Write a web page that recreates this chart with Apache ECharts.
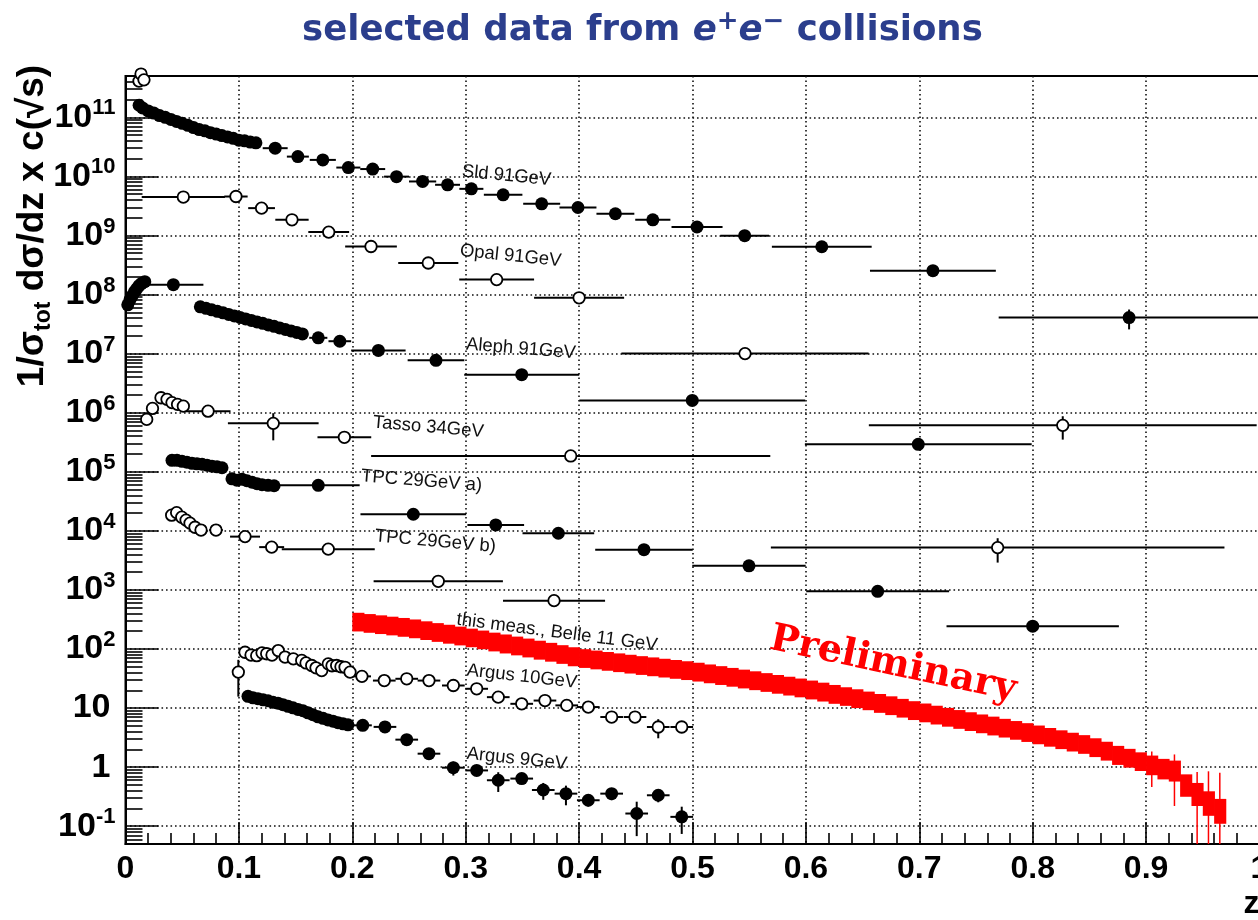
<!DOCTYPE html>
<html>
<head>
<meta charset="utf-8">
<script src="https://cdn.jsdelivr.net/npm/echarts@6/dist/echarts.min.js"></script>
<style>
html, body { margin: 0; padding: 0; background: #fff; }
#chart { width: 1258px; height: 920px; }
</style>
</head>
<body>
<div id="chart"></div>
<script>
// ---------- axis ticks ----------
const xTicks = [0, 0.1, 0.2, 0.3, 0.4, 0.5, 0.6, 0.7, 0.8, 0.9, 1];
const yMajor = [0.1, 1, 10, 1e2, 1e3, 1e4, 1e5, 1e6, 1e7, 1e8, 1e9, 1e10, 1e11];

// ---------- SLD 91 GeV (filled) ----------
const sldZ  = [0.012,0.015,0.020,0.025,0.030,0.035,0.040,0.045,0.050,0.055,0.060,0.065,0.070,0.075,0.080,0.085,0.090,0.095,0.100,0.105,0.110,0.115,
               0.132,0.152,0.174,0.1965,0.218,0.239,0.262,0.284,0.305,0.333,0.367,0.399,0.432,0.465,0.504,0.546,0.614,0.712,0.885];
const sldV  = [1.6e11,1.44e11,1.28e11,1.18e11,1.07e11,1.0e11,9.2e10,8.5e10,7.9e10,7.3e10,6.7e10,6.2e10,5.9e10,5.5e10,5.2e10,4.9e10,4.65e10,4.4e10,4.1e10,4.0e10,3.8e10,3.7e10,
               3.0e10,2.16e10,1.9e10,1.41e10,1.33e10,9.9e9,8.2e9,7.2e9,6.15e9,4.87e9,3.43e9,2.97e9,2.33e9,1.84e9,1.39e9,9.9e8,6.44e8,2.53e8,4.07e7];
const sldDz = [0.0025,0.0025,0.0025,0.0025,0.0025,0.0025,0.0025,0.0025,0.0025,0.0025,0.0025,0.0025,0.0025,0.0025,0.0025,0.0025,0.0025,0.0025,0.0025,0.0025,0.0025,0.0025,
               0.011,0.0097,0.0115,0.0106,0.011,0.011,0.012,0.011,0.0106,0.017,0.0163,0.0163,0.0167,0.0155,0.0225,0.0215,0.044,0.0555,0.115];
const sldEy = [0,0,0,0,0,0,0,0,0,0,0,0,0,0,0,0,0,0,0,0,0,0, 0,0,0,0,0,0,0,0,0,0,0,0,0,0,0,0,0,0,1.5e7];

// ---------- OPAL 91 GeV (open) ----------
const opalZ  = [0.0119,0.0137,0.0163, 0.051,0.0974,0.120,0.1468,0.1792,0.2165,0.267,0.3273,0.400,0.5463];
const opalV  = [4.1e11,5.4e11,4.3e11, 4.47e9,4.56e9,2.9e9,1.84e9,1.14e9,6.5e8,3.42e8,1.79e8,8.8e7,1.0e7];
const opalDz = [0.002,0.002,0.002, 0.0367,0.0103,0.0118,0.0147,0.018,0.0228,0.0265,0.033,0.0397,0.109];

// ---------- ALEPH 91 GeV (filled) ----------
const alephZ  = [0.002,0.004,0.006,0.008,0.010,0.012,0.014,0.017, 0.0422,
                 0.066,0.071,0.076,0.081,0.086,0.091,0.096,0.101,0.106,0.111,0.116,0.121,0.126,0.131,0.136,0.141,0.146,0.151,0.156,
                 0.170,0.189,0.223,0.2738,0.3494,0.4998,0.6991];
const alephV  = [6.7e7,8.2e7,9.6e7,1.12e8,1.26e8,1.41e8,1.53e8,1.65e8, 1.47e8,
                 6.2e7,5.85e7,5.5e7,5.2e7,4.9e7,4.6e7,4.35e7,4.1e7,3.87e7,3.65e7,3.44e7,3.25e7,3.06e7,2.89e7,2.72e7,2.56e7,2.42e7,2.28e7,2.15e7,
                 1.85e7,1.62e7,1.13e7,7.7e6,4.4e6,1.61e6,2.91e5];
const alephDz = [0.001,0.001,0.001,0.001,0.001,0.001,0.001,0.001, 0.0265,
                 0.0025,0.0025,0.0025,0.0025,0.0025,0.0025,0.0025,0.0025,0.0025,0.0025,0.0025,0.0025,0.0025,0.0025,0.0025,0.0025,0.0025,0.0025,0.0025,
                 0.008,0.010,0.024,0.025,0.0507,0.0996,0.100];

// ---------- TASSO 34 GeV (open) ----------
const tassoZ  = [0.0187,0.0238,0.0313,0.0366,0.041,0.0459,0.051,0.0728,0.1303,0.193,0.3926,0.8265];
const tassoV  = [7.7e5,1.18e6,1.79e6,1.68e6,1.48e6,1.38e6,1.29e6,1.06e6,6.6e5,3.83e5,1.85e5,6.1e5];
const tassoDz = [0.002,0.002,0.002,0.002,0.002,0.002,0.002,0.0198,0.040,0.0237,0.176,0.171];
const tassoEy = [0,0,0,0,0,0,0,0,3.2e5,0,0,2.6e5];

// ---------- TPC 29 GeV a) (filled) ----------
const tpcaZ  = [0.041,0.0454,0.0498,0.0542,0.0586,0.063,0.0675,0.0719,0.0763,0.0807,0.0851,
                0.0939,0.0983,0.1027,0.1071,0.1116,0.116,0.1204,0.1257,0.131,
                0.170,0.2538,0.3265,0.3817,0.4572,0.5498,0.6633,0.800];
const tpcaV  = [1.56e5,1.56e5,1.50e5,1.45e5,1.39e5,1.36e5,1.34e5,1.29e5,1.24e5,1.21e5,1.17e5,
                7.6e4,7.2e4,7.5e4,7.05e4,6.65e4,6.27e4,6.03e4,5.9e4,5.8e4,
                5.9e4,1.91e4,1.26e4,9.1e3,4.8e3,2.56e3,946,243];
const tpcaDz = [0.0022,0.0022,0.0022,0.0022,0.0022,0.0022,0.0022,0.0022,0.0022,0.0022,0.0022,
                0.0022,0.0022,0.0022,0.0022,0.0022,0.0022,0.0022,0.0022,0.0022,
                0.0365,0.0466,0.025,0.0316,0.043,0.050,0.063,0.076];

// ---------- TPC 29 GeV b) (open) ----------
const tpcbZ  = [0.0407,0.0451,0.0496,0.0534,0.0569,0.0613,0.0666,0.0798,0.1054,0.1289,0.1788,0.2758,0.3779,0.7691];
const tpcbV  = [1.84e4,2.03e4,1.70e4,1.52e4,1.35e4,1.15e4,1.03e4,1.03e4,7.98e3,5.3e3,4.9e3,1.40e3,658,5.2e3];
const tpcbDz = [0.002,0.002,0.002,0.002,0.002,0.002,0.002,0.006,0.0132,0.011,0.041,0.057,0.045,0.200];
const tpcbEy = [0,0,0,0,0,0,0,0,0,0,0,0,0,2.3e3];

// ---------- this measurement, Belle 11 GeV (boxes) ----------
const belleBinWidth = 0.01;
const belleZ = [0.205,0.215,0.225,0.235,0.245,0.255,0.265,0.275,0.285,0.295,
                0.305,0.315,0.325,0.335,0.345,0.355,0.365,0.375,0.385,0.395,
                0.405,0.415,0.425,0.435,0.445,0.455,0.465,0.475,0.485,0.495,
                0.505,0.515,0.525,0.535,0.545,0.555,0.565,0.575,0.585,0.595,
                0.605,0.615,0.625,0.635,0.645,0.655,0.665,0.675,0.685,0.695,
                0.705,0.715,0.725,0.735,0.745,0.755,0.765,0.775,0.785,0.795,
                0.805,0.815,0.825,0.835,0.845,0.855,0.865,0.875,0.885,0.895,
                0.905,0.915,0.925,0.935,0.945,0.955,0.965];
const belleV = [304,289,275,261,248,234,218,203,190,177,
                164,152,140,130,120,111,102,94,86,79,
                73.5,69.6,65.9,62.4,59.1,56,53.3,50.6,48.2,45.9,
                43.3,40.5,37.9,35.4,33.1,31,28.9,26.9,25.1,23.4,
                21.6,19.9,18.2,16.7,15.4,14.1,12.8,11.7,10.6,9.67,
                8.84,8.11,7.45,6.85,6.29,5.77,5.3,4.87,4.47,4.11,
                3.75,3.41,3.11,2.83,2.58,2.28,1.99,1.69,1.51,1.32,
                1.15,1.0,0.93,0.535,0.38,0.27,0.2];
const belleErr = [106,101,96,91,87,82,76,71,67,62,
                  57,53,49,46,42,39,36,33,30,28,
                  25.7,24.4,23.1,21.8,20.7,19.6,18.7,17.7,16.9,16.1,
                  15.2,14.2,13.3,12.4,11.6,10.9,10.1,9.4,8.8,8.2,
                  7.6,7.0,6.4,5.8,5.4,4.9,4.5,4.1,3.7,3.4,
                  3.1,2.84,2.61,2.4,2.2,2.02,1.86,1.7,1.56,1.44,
                  1.31,1.19,1.09,0.99,0.9,0.8,0.7,0.6,0.53,0.46,
                  0.42,0.38,0.36,0.22,0.16,0.12,0.09];
const belleStat = [0,0,0,0,0,0,0,0,0,0, 0,0,0,0,0,0,0,0,0,0,
                   0,0,0,0,0,0,0,0,0,0, 0,0,0,0,0,0,0,0,0,0,
                   0,0,0,0,0,0,0,0,0,0, 0,0,0,0,0,0,0,0,0,0,
                   0,0,0,0,0,0,0,0,0,0,
                   0.69,0,0.71,0,0.45,0.58,0.6];

// ---------- ARGUS 10 GeV (open) ----------
const a10Z  = [0.0995, 0.1054,0.1107,0.1157,0.1204,0.1245,0.1292,0.1347,0.1407,0.148,0.1554,0.1592,0.1642,0.168,0.173,0.1788,0.1821,0.1862,0.19,0.1936,0.198,
               0.2085,0.2282,0.248,0.2676,0.2891,0.3097,0.3287,0.3494,0.3699,0.3891,0.4081,0.4287,0.4493,0.4698,0.4905];
const a10V  = [40.6, 88,79,77,86,83,79,94,73,68,64,58,52.5,48,43,56,52,52.5,50,49,40.6,
               34.4,29.2,31.3,29.2,24.1,21.2,15.3,11.8,13.4,11.1,10.4,7.05,7.05,4.78,4.78];
const a10Dz = [0.002, 0.0025,0.0025,0.0025,0.0025,0.0025,0.0025,0.0025,0.0025,0.0025,0.0025,0.0025,0.0025,0.0025,0.0025,0.0025,0.0025,0.0025,0.0025,0.0025,0.0025,
               0.008,0.01,0.01,0.01,0.01,0.01,0.01,0.01,0.01,0.01,0.01,0.01,0.01,0.01,0.01];
const a10Ey = [25, 0,0,0,0,0,0,0,0,0,0,0,0,0,0,0,0,0,0,0,0,
               0,0,0,0,0,0,0,0,0,0,0,1.2,0,1.7,1.0];

// ---------- ARGUS 9 GeV (filled) ----------
const a9Z  = [0.108,0.1124,0.1168,0.1213,0.1257,0.1301,0.1345,0.1389,0.1433,0.1477,0.1521,0.1565,0.1609,0.1653,0.1698,0.1742,0.1786,0.183,0.1874,0.1918,0.1962,
              0.2092,0.2288,0.248,0.2676,0.2891,0.3097,0.3287,0.3494,0.3684,0.3884,0.4081,0.4287,0.4508,0.4698,0.4905];
const a9V  = [15.8,14.9,14.4,13.8,13.3,12.5,12.1,11.4,10.7,10.1,9.5,9.0,8.3,7.7,7.1,6.7,6.3,6.0,5.65,5.4,5.2,
              5.1,4.8,2.92,1.69,0.98,0.88,0.60,0.64,0.41,0.356,0.275,0.356,0.164,0.334,0.144];
const a9Dz = [0.0022,0.0022,0.0022,0.0022,0.0022,0.0022,0.0022,0.0022,0.0022,0.0022,0.0022,0.0022,0.0022,0.0022,0.0022,0.0022,0.0022,0.0022,0.0022,0.0022,0.0022,
              0.008,0.01,0.01,0.01,0.01,0.01,0.01,0.01,0.01,0.01,0.01,0.01,0.01,0.01,0.01];
const a9Ey = [0,0,0,0,0,0,0,0,0,0,0,0,0,0,0,0,0,0,0,0,0,
              0.8,0.6,0.4,0.3,0.26,0.15,0.22,0.12,0.13,0.13,0.06,0.08,0.096,0.08,0.07];

// ---------- annotations: [text, z, value, angle in degrees] ----------
const notes = [
  ['Sld 91GeV', 0.2967, 1.21e10, -5.5],
  ['Opal 91GeV', 0.295, 5.5e8, -5.8],
  ['Aleph 91GeV', 0.3003, 1.43e7, -4.6],
  ['Tasso 34GeV', 0.2183, 6.86e5, -5],
  ['TPC 29GeV a)', 0.2077, 8.4e4, -4.5],
  ['TPC 29GeV b)', 0.22, 8.1e3, -5],
  ['this meas., Belle 11 GeV', 0.2921, 316, -7.4],
  ['Argus 10GeV', 0.3009, 43.5, -6.4],
  ['Argus 9GeV', 0.3009, 1.69, -6]
];
const stamp = ['Preliminary', 0.6768, 53.8, -12];

// ---------- helpers ----------
function rows(z, v, dz, ey) {
  return z.map((zz, i) => [zz, v[i], dz[i], ey ? ey[i] : 0]);
}

function renderErrorBars(params, api) {
  const z = api.value(0), v = api.value(1), dz = api.value(2), ey = api.value(3);
  const cs = params.coordSys;
  const yBottom = cs.y + cs.height;
  const children = [];
  const style = { stroke: '#000', lineWidth: 2 };
  if (dz > 0) {
    const a = api.coord([z - dz, v]);
    const b = api.coord([z + dz, v]);
    children.push({ type: 'line', shape: { x1: Math.max(a[0], cs.x), y1: a[1], x2: b[0], y2: b[1] }, style });
  }
  if (ey > 0) {
    const t = api.coord([z, v + ey]);
    const lo = v - ey;
    const yb = lo > 0 ? Math.min(api.coord([z, lo])[1], yBottom) : yBottom;
    children.push({ type: 'line', shape: { x1: t[0], y1: t[1], x2: t[0], y2: yb }, style });
  }
  return { type: 'group', children };
}

function renderBelle(params, api) {
  const z = api.value(0), v = api.value(1), e = api.value(2), s = api.value(3);
  const cs = params.coordSys;
  const yBottom = cs.y + cs.height;
  const h = belleBinWidth / 2;
  const a = api.coord([z - h, v + e]);
  const b = api.coord([z + h, v - e]);
  const children = [{
    type: 'rect',
    shape: { x: a[0], y: a[1], width: b[0] - a[0] + 0.8, height: b[1] - a[1] },
    style: { fill: '#ff0000' }
  }];
  if (s > 0) {
    const t = api.coord([z, v + s]);
    const lo = v - s;
    const yb = lo > 0 ? Math.min(api.coord([z, lo])[1], yBottom) : yBottom;
    children.push({ type: 'line', shape: { x1: t[0], y1: t[1], x2: t[0], y2: yb }, style: { stroke: '#ff0000', lineWidth: 1.5 } });
  }
  return { type: 'group', children };
}

const groups = [
  { name: 'Sld 91GeV', data: rows(sldZ, sldV, sldDz, sldEy), open: false },
  { name: 'Opal 91GeV', data: rows(opalZ, opalV, opalDz), open: true },
  { name: 'Aleph 91GeV', data: rows(alephZ, alephV, alephDz), open: false },
  { name: 'Tasso 34GeV', data: rows(tassoZ, tassoV, tassoDz, tassoEy), open: true },
  { name: 'TPC 29GeV a)', data: rows(tpcaZ, tpcaV, tpcaDz), open: false },
  { name: 'TPC 29GeV b)', data: rows(tpcbZ, tpcbV, tpcbDz, tpcbEy), open: true },
  { name: 'Argus 10GeV', data: rows(a10Z, a10V, a10Dz, a10Ey), open: true },
  { name: 'Argus 9GeV', data: rows(a9Z, a9V, a9Dz, a9Ey), open: false }
];

const series = [];
series.push({
  name: 'this meas., Belle 11 GeV',
  type: 'custom',
  renderItem: renderBelle,
  encode: { x: 0, y: 1 },
  data: belleZ.map((z, i) => [z, belleV[i], belleErr[i], belleStat[i]]),
  z: 3,
  silent: true
});
groups.forEach(g => {
  series.push({
    name: g.name + ' errors',
    type: 'custom',
    renderItem: renderErrorBars,
    encode: { x: 0, y: 1 },
    data: g.data,
    z: 4,
    silent: true
  });
  series.push({
    name: g.name,
    type: 'scatter',
    data: g.data.map(r => [r[0], r[1]]),
    symbol: 'circle',
    symbolSize: g.open ? 11.5 : 13,
    clip: false,
    itemStyle: g.open
      ? { color: '#fff', borderColor: '#000', borderWidth: 1.8, opacity: 1 }
      : { color: '#000', opacity: 1 },
    z: 5,
    silent: true
  });
});

// minor decade ticks 2..9 x 10^n inside the visible range
const yMinor = [];
for (let e = -2; e <= 11; e++) {
  for (let m = 2; m <= 9; m++) {
    const val = m * Math.pow(10, e);
    if (val >= 0.05 && val <= 5e11) yMinor.push(val);
  }
}

const SANS = '"Liberation Sans", Arial, sans-serif';

const option = {
  animation: false,
  backgroundColor: '#fff',
  title: {
    text: 'selected data from {i|e}{sup|+}{i|e}{sup|\u2212} collisions',
    left: 297,
    top: 4,
    textStyle: {
      fontFamily: '"DejaVu Sans", sans-serif',
      fontWeight: 'bold',
      fontSize: 35.5,
      color: '#2b3e8d',
      lineHeight: 44,
      rich: {
        i: { fontFamily: '"DejaVu Sans", sans-serif', fontWeight: 'bold', fontStyle: 'italic', fontSize: 35.5, color: '#2b3e8d', lineHeight: 44 },
        sup: { fontFamily: '"DejaVu Sans", sans-serif', fontWeight: 'bold', fontSize: 26, color: '#2b3e8d', lineHeight: 26, verticalAlign: 'top' }
      }
    }
  },
  grid: {
    left: 125.5, top: 76, right: -1.5, bottom: 76,
    outerBoundsMode: 'none',
    containLabel: false,
    show: true, borderColor: '#000', borderWidth: 2, backgroundColor: 'transparent'
  },
  xAxis: {
    type: 'value', min: 0, max: 1, interval: 0.1,
    name: 'z', nameLocation: 'end', nameGap: 0, nameMoveOverlap: false,
    nameTextStyle: { fontFamily: SANS, fontWeight: 'bold', fontSize: 32, color: '#000', align: 'right', verticalAlign: 'top', padding: [44, 0, 0, 0] },
    axisLine: { show: true, lineStyle: { color: '#000', width: 2 } },
    axisTick: { show: true, inside: true, length: 22, lineStyle: { color: '#000', width: 1.6 } },
    minorTick: { show: true, splitNumber: 5, length: 11, lineStyle: { color: '#000', width: 1.6 } },
    axisLabel: {
      margin: 9, fontFamily: SANS, fontWeight: 'bold', fontSize: 32, color: '#000',
      formatter: v => String(Math.round(v * 10) / 10)
    },
    splitLine: { show: true, lineStyle: { color: '#111', width: 1.6, type: [1.6, 2.9] } }
  },
  yAxis: [{
    type: 'log', logBase: 10, min: 0.05, max: 5e11,
    name: '{a|1/\u03c3}{b|tot}{a| d\u03c3/dz x c(\u221as)}',
    nameLocation: 'middle', nameGap: 70, nameRotate: 90, nameMoveOverlap: false,
    nameTextStyle: {
      fontFamily: SANS, fontWeight: 'bold', fontSize: 37, color: '#000',
      padding: [0, 0, 0, 468],
      rich: {
        a: { fontFamily: SANS, fontWeight: 'bold', fontSize: 37, color: '#000', lineHeight: 46 },
        b: { fontFamily: SANS, fontWeight: 'bold', fontSize: 23, color: '#000', lineHeight: 23, verticalAlign: 'bottom' }
      }
    },
    axisLine: { show: true, lineStyle: { color: '#000', width: 2 } },
    axisTick: { show: true, inside: true, length: 33, customValues: yMajor, lineStyle: { color: '#000', width: 1.6 } },
    axisLabel: {
      show: true, margin: 10, customValues: yMajor,
      fontFamily: SANS, fontWeight: 'bold', fontSize: 34, color: '#000',
      formatter: function (v) {
        const e = Math.round(Math.log10(v));
        if (e === 0) return '{n|1}';
        if (e === 1) return '{n|10}';
        return '{b|10}{s|' + e + '}';
      },
      rich: {
        n: { fontFamily: SANS, fontWeight: 'bold', fontSize: 34, color: '#000', padding: [0, 5, 0, 0] },
        b: { fontFamily: SANS, fontWeight: 'bold', fontSize: 34, color: '#000', lineHeight: 40 },
        s: { fontFamily: SANS, fontWeight: 'bold', fontSize: 22, color: '#000', lineHeight: 22, verticalAlign: 'top' }
      }
    },
    splitLine: { show: true, lineStyle: { color: '#111', width: 1.6, type: [1.6, 2.9] } }
  }, {
    type: 'log', logBase: 10, min: 0.05, max: 5e11, position: 'left',
    axisLine: { show: false },
    axisTick: { show: true, inside: true, length: 17, customValues: yMinor, lineStyle: { color: '#000', width: 1.6 } },
    axisLabel: { show: false },
    splitLine: { show: false }
  }],
  series: series
};

const chart = echarts.init(document.getElementById('chart'), null, { renderer: 'canvas' });
chart.setOption(option);

// text annotations placed in data coordinates
const refSeries = 2; // Sld markers
const graphics = notes.map(n => {
  const p = chart.convertToPixel({ seriesIndex: refSeries }, [n[1], n[2]]);
  return {
    type: 'text', x: p[0], y: p[1], rotation: n[3] * Math.PI / 180, silent: true, z: 20,
    style: { text: n[0], fontFamily: SANS, fontSize: 18.5, fill: '#111', align: 'left', verticalAlign: 'middle' }
  };
});
const sp = chart.convertToPixel({ seriesIndex: refSeries }, [stamp[1], stamp[2]]);
graphics.push({
  type: 'text', x: sp[0], y: sp[1], rotation: stamp[3] * Math.PI / 180, silent: true, z: 20,
  style: { text: stamp[0], fontFamily: '"DejaVu Serif", serif', fontWeight: 'bold', fontSize: 38, fill: '#ff0000', align: 'center', verticalAlign: 'middle' }
});
chart.setOption({ graphic: graphics });
</script>
</body>
</html>
